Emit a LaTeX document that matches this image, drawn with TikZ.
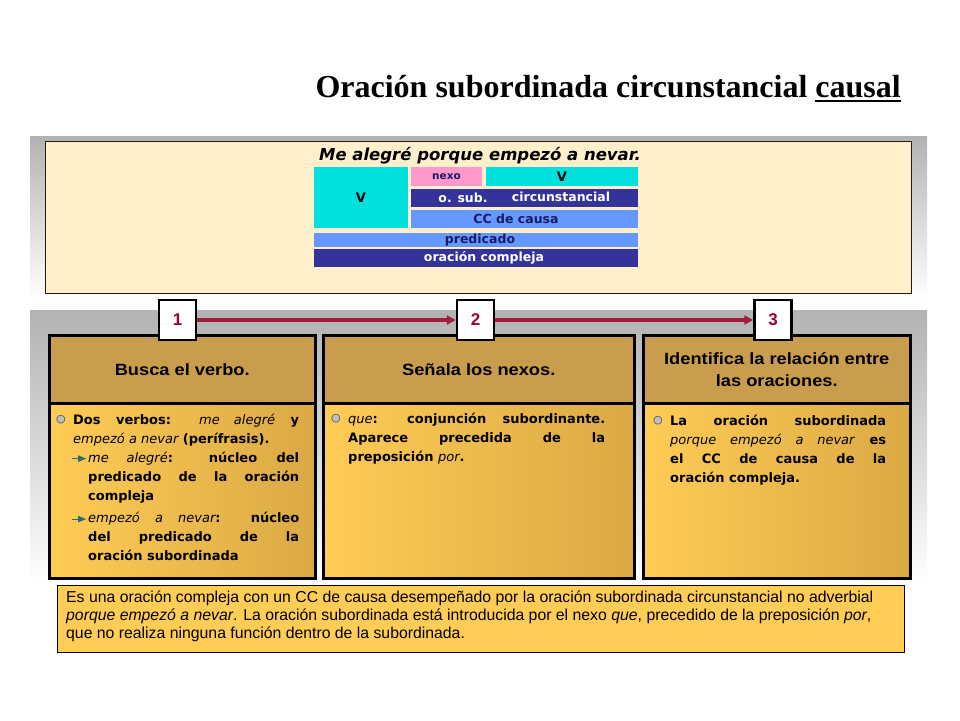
\documentclass[tikz,border=0pt]{standalone}
\usepackage{fontspec}
\setmainfont{DejaVu Sans}
\newfontfamily\titlefont{Liberation Serif}
\newfontfamily\headfont{Liberation Sans}[FakeStretch=1.12]
\newfontfamily\notefont{Liberation Sans}
\usetikzlibrary{arrows.meta,positioning}
\definecolor{bandgray}{HTML}{B2B2B2}
\definecolor{cream}{HTML}{FFEFCB}
\definecolor{vcyan}{HTML}{00E0DC}
\definecolor{nexopink}{HTML}{FF99CC}
\definecolor{navy}{HTML}{333399}
\definecolor{skyblue}{HTML}{6699FF}
\definecolor{inkblue}{HTML}{1A1A66}
\definecolor{headtan}{HTML}{C89E4E}
\definecolor{bodygold}{HTML}{FFCC55}
\definecolor{bodydark}{HTML}{DAA944}
\definecolor{numred}{HTML}{A0002C}
\definecolor{arrowred}{HTML}{A01E3C}
\definecolor{pointer}{HTML}{2F6B6B}
\newcommand{\ulword}[1]{\setbox0\hbox{#1}\rlap{\rule[-4.5pt]{\wd0}{2pt}}\box0}
\newcommand{\pbul}{\leavevmode\llap{\fontsize{11}{11}\selectfont\mdseries\raisebox{1.5pt}{%
  \rlap{\textcolor{black!25}{●}}\textcolor{black!75}{○}}\hspace{7.5pt}}}
\newcommand{\psub}{\leavevmode\llap{\tikz[baseline=-3.5pt]{\draw[pointer,line width=0.9pt] (0pt,0pt) -- (7pt,0pt);\fill[pointer] (6pt,3.3pt) -- (14pt,0pt) -- (6pt,-3.3pt) -- cycle;}\hspace{2pt}}}
\newcommand{\ital}[1]{{\mdseries\itshape #1}}
\newcommand{\nohyph}{\hyphenpenalty=10000\relax\exhyphenpenalty=10000\relax}
\tikzset{
  band/.style={top color=bandgray,bottom color=white},
  cell/.style={anchor=north west,inner sep=0pt,outer sep=0pt,text=black,
    font=\bfseries\fontsize{13}{15}\selectfont},
  celltext/.style={inner sep=0pt,font=\bfseries\fontsize{12.5}{15}\selectfont},
  panelhead/.style={anchor=north west,fill=headtan,draw=black,line width=2.5pt,
    minimum height=68pt,inner sep=0pt,align=center,
    font=\headfont\bfseries\fontsize{16.3}{22}\selectfont},
  panelbody/.style={anchor=north west,left color=bodygold,right color=bodydark,
    draw=black,line width=2.5pt,minimum height=175pt,inner sep=0pt},
  bodytext/.style={anchor=north west,inner sep=0pt,align=justify,
    font=\bfseries\fontsize{13}{19}\selectfont},
  stepnum/.style={fill=white,draw=black,line width=2.5pt,minimum width=37pt,
    minimum height=40pt,inner sep=0pt,text=numred,
    font=\notefont\bfseries\fontsize{17}{20}\selectfont},
  steparrow/.style={draw=arrowred,line width=3.2pt,-{Triangle[length=9pt,width=9pt]}}
}
\begin{document}
\begin{tikzpicture}[x=1pt,y=-1pt]
  \useasboundingbox (0,0) rectangle (960,720);
  \node[anchor=base east,inner sep=0pt,font=\titlefont\bfseries\fontsize{32}{36}\selectfont] (title) at (901,97)
    {Oración subordinada circunstancial \ulword{causal}};
  \path[band] (30,136) rectangle (927,300);
  \path[band] (30,310) rectangle (927,585);
  \node[anchor=north west,fill=cream,draw=black!80!brown,line width=0.8pt,minimum width=866pt,
    minimum height=152pt,inner sep=0pt] (example) at (45,141) {};
  \node[anchor=base,inner sep=0pt,font=\bfseries\itshape\fontsize{16.5}{18}\selectfont] (sentence) at (480,160.5)
    {Me alegré porque empezó a nevar.};
  % analysis cells
  \node[cell,fill=vcyan,minimum width=94pt,minimum height=61pt] (vmain) at (314,167) {V};
  \node[cell,fill=nexopink,minimum width=71pt,minimum height=19pt,text=inkblue,
    font=\bfseries\fontsize{10.5}{12}\selectfont] (nexo) at (411,167) {nexo};
  \node[cell,fill=vcyan,minimum width=152pt,minimum height=19pt] (vsub) at (486,167) {V};
  \node[cell,fill=navy,minimum width=227pt,minimum height=18pt] (osub) at (411,189) {};
  \node[celltext,text=white] (osubtxt) at (463,198) {o. sub.};
  \node[celltext,text=white] (circtxt) at (561,197) {circunstancial};
  \node[cell,fill=skyblue,minimum width=227pt,minimum height=18pt] (cc) at (411,210) {};
  \node[celltext,text=inkblue] (cctxt) at (516,219) {CC de causa};
  \node[cell,fill=skyblue,minimum width=324pt,minimum height=14pt] (pred) at (314,233) {};
  \node[celltext,text=inkblue] (predtxt) at (480,240) {predicado};
  \node[cell,fill=navy,minimum width=324pt,minimum height=18pt] (ocomp) at (314,249) {};
  \node[celltext,text=white] (ocomptxt) at (484,258) {oración compleja};
  % three steps
  \node[panelhead,minimum width=266pt] (head1) at (48,334) {Busca el verbo.};
  \node[panelbody,minimum width=266pt] (body1) at (48,402) {};
  \node[panelhead,minimum width=311pt] (head2) at (322,334) {Señala los nexos.};
  \node[panelbody,minimum width=311pt] (body2) at (322,402) {};
  \node[panelhead,minimum width=267pt] (head3) at (642,334) {Identifica la relación entre\\las oraciones.};
  \node[panelbody,minimum width=267pt] (body3) at (642,402) {};
  \node[stepnum] (n1) at (177.5,320) {1};
  \node[stepnum] (n2) at (475.5,320) {2};
  \node[stepnum] (n3) at (773,320) {3};
  \draw[steparrow] (n1) -- (n2);
  \draw[steparrow] (n2) -- (n3);
  \node[bodytext,text width=242pt] (txt1) at (57,413.5) {\nohyph\leftskip=16pt\relax
    \pbul Dos verbos: \ital{me alegré} y\linebreak \ital{empezó a nevar} (perífrasis).\par
    \leftskip=31pt\relax
    \psub\ital{me alegré}: núcleo del\linebreak predicado de la oración\linebreak compleja\par
    \vspace{3.5pt}
    \psub\ital{empezó a nevar}: núcleo\linebreak del predicado de la\linebreak oración subordinada\par};
  \node[bodytext,text width=273pt] (txt2) at (332,412.5) {\nohyph\leftskip=16pt\relax
    \pbul\ital{que}: conjunción subordinante.\linebreak Aparece precedida de la\linebreak
    preposición \ital{por}.\par};
  \node[bodytext,text width=232pt] (txt3) at (654,414.5) {\nohyph\leftskip=16pt\relax
    \pbul La oración subordinada\linebreak \ital{porque empezó a nevar} es\linebreak
    el CC de causa de la\linebreak oración compleja.\par};
  % summary
  \node[anchor=north west,fill=bodygold,draw=black,line width=0.9pt,minimum width=847pt,
    minimum height=67pt,inner sep=0pt] (note) at (57,585) {};
  \node[anchor=north west,inner sep=0pt,align=left,
    font=\notefont\fontsize{15.8}{18}\selectfont] (notetxt) at (66,591) {%
    Es una oración compleja con un CC de causa desempeñado por la oración subordinada circunstancial no adverbial\\
    \textit{porque empezó a nevar}. La oración subordinada está introducida por el nexo \textit{que}, precedido de la preposición \textit{por},\\
    que no realiza ninguna función dentro de la subordinada.};
\end{tikzpicture}
\end{document}
